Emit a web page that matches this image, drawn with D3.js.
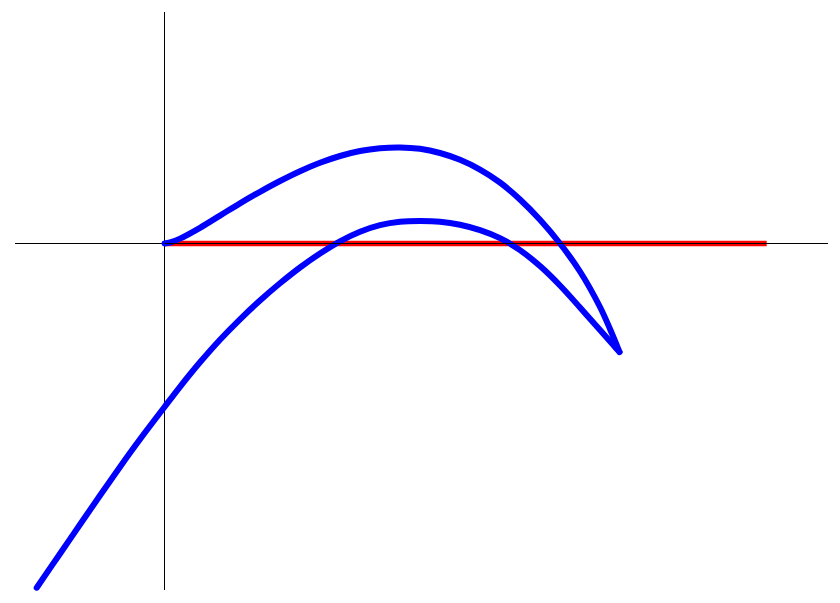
<!DOCTYPE html>
<html>
<head>
<meta charset="utf-8">
<script src="https://cdn.jsdelivr.net/npm/d3@7"></script>
<style>
  html, body { margin: 0; padding: 0; background: #fff; }
  svg { display: block; }
</style>
</head>
<body>
<svg id="chart" width="840" height="603"></svg>
<script>
// Axis extents (data units)
const xAxisExtent = [-1.495, 6.635];
const yAxisExtent = [-3.465, 2.315];

// Red segment along the x axis
const redX = [0, 6.022];
const redY = [0, 0];

// Blue curve, upper branch (origin -> cusp)
const upperX = [0, 0.055, 0.155, 0.355, 0.555, 0.755, 0.955, 1.155, 1.355, 1.555, 1.755, 1.955, 2.155, 2.355, 2.555, 2.755, 2.955, 3.155, 3.355, 3.555, 3.755, 3.955, 4.155, 4.355, 4.455, 4.55];
const upperY = [0, 0.01, 0.049, 0.157, 0.279, 0.402, 0.517, 0.625, 0.723, 0.807, 0.875, 0.925, 0.953, 0.961, 0.947, 0.905, 0.837, 0.739, 0.61, 0.44, 0.237, 0, -0.28, -0.635, -0.855, -1.085];

// Blue curve, lower branch (cusp -> lower left end)
const lowerX = [4.55, 4.488, 4.355, 4.155, 3.955, 3.755, 3.555, 3.355, 3.155, 2.955, 2.755, 2.555, 2.355, 2.155, 1.955, 1.755, 1.555, 1.355, 1.155, 0.955, 0.755, 0.555, 0.355, 0.155, 0, -0.245, -0.445, -0.645, -0.845, -1.045, -1.278];
const lowerY = [-1.085, -1.016, -0.866, -0.64, -0.42, -0.226, -0.066, 0.054, 0.134, 0.188, 0.218, 0.225, 0.218, 0.184, 0.118, 0.022, -0.1, -0.24, -0.398, -0.57, -0.758, -0.962, -1.188, -1.433, -1.635, -1.958, -2.234, -2.52, -2.81, -3.102, -3.442];

const svg = d3.select("#chart");
const x = d3.scaleLinear().domain(xAxisExtent).range([15, 828]);
const y = d3.scaleLinear().domain([yAxisExtent[1], yAxisExtent[0]]).range([12, 590]);

// axes
svg.append("line")
  .attr("x1", x(xAxisExtent[0])).attr("x2", x(xAxisExtent[1]))
  .attr("y1", y(0)).attr("y2", y(0))
  .attr("stroke", "#000").attr("stroke-width", 1);
svg.append("line")
  .attr("x1", x(0)).attr("x2", x(0))
  .attr("y1", y(yAxisExtent[1])).attr("y2", y(yAxisExtent[0]))
  .attr("stroke", "#000").attr("stroke-width", 1);

const line = d3.line().x(d => x(d[0])).y(d => y(d[1])).curve(d3.curveCatmullRom.alpha(0.5));
const zip = (a, b) => a.map((v, i) => [v, b[i]]);

// red segment
svg.append("path")
  .datum(zip(redX, redY))
  .attr("d", d3.line().x(d => x(d[0])).y(d => y(d[1])))
  .attr("fill", "none").attr("stroke", "#ff0000").attr("stroke-width", 5.5);

// blue curve
[zip(upperX, upperY), zip(lowerX, lowerY)].forEach(pts => {
  svg.append("path")
    .datum(pts)
    .attr("d", line)
    .attr("fill", "none").attr("stroke", "#0000ff").attr("stroke-width", 6)
    .attr("stroke-linecap", "round").attr("stroke-linejoin", "round");
});

// thin black axis visible through the red segment, as in the reference
svg.append("line")
  .attr("x1", x(0)).attr("x2", x(redX[1]))
  .attr("y1", y(0)).attr("y2", y(0))
  .attr("stroke", "#000").attr("stroke-width", 1);
</script>
</body>
</html>
